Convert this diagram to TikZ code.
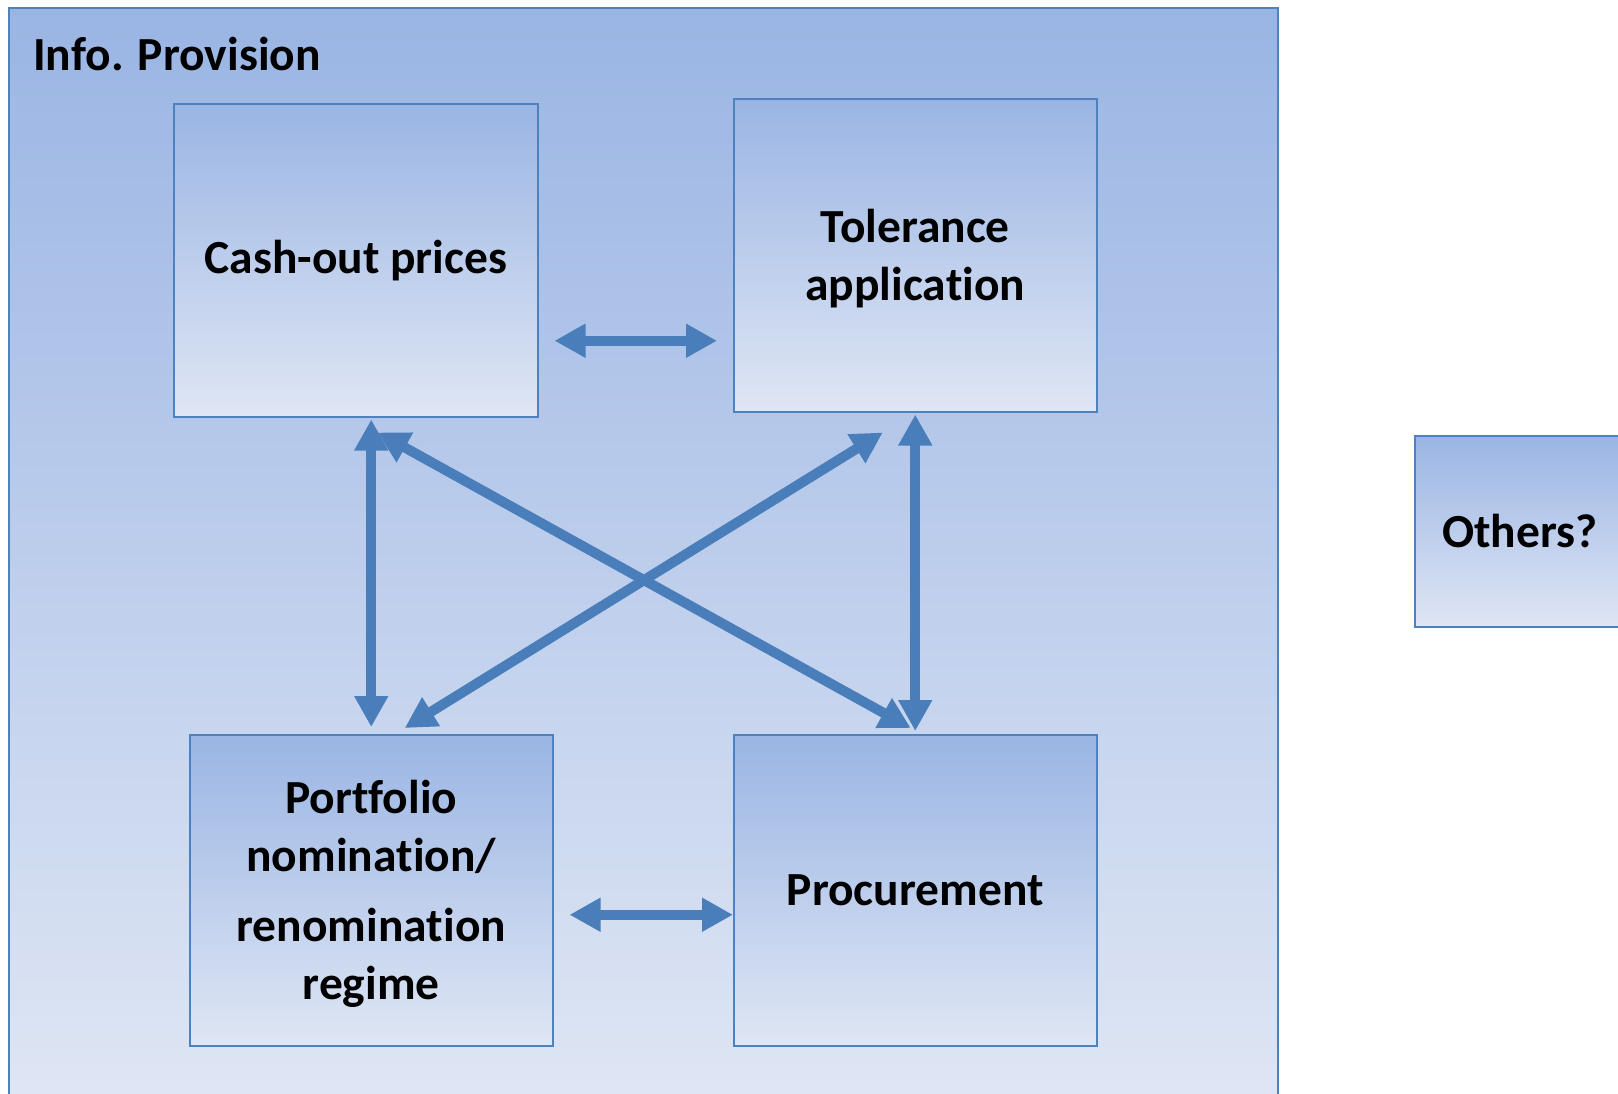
\documentclass[tikz,border=0pt]{standalone}
\usepackage{fontspec}
\setmainfont{Carlito}[Ligatures=NoCommon]
\usetikzlibrary{arrows.meta}
\definecolor{edge}{RGB}{79,129,189}
\definecolor{arrc}{RGB}{74,126,187}
\definecolor{gtop}{RGB}{154,181,228}
\definecolor{gbot}{RGB}{223,230,244}
\newcommand{\mylines}[1]{\raisebox{-10.8pt}[0pt][0pt]{\begin{tabular}{@{}c@{}}#1\end{tabular}}}
\newcommand{\nl}{\kern0pt }
\begin{document}
\begin{tikzpicture}[x=1pt,y=-1pt,
  txt/.style={font=\fontsize{47.5}{58}\selectfont\bfseries},
  box/.style={draw=edge, line width=1.5pt, top color=gtop, bottom color=gbot,
    anchor=north west, inner sep=0pt, align=center, txt},
  arr/.style={draw=arrc, line width=10pt,
    {Triangle[width=32pt,length=31pt]}-{Triangle[width=32pt,length=31pt]}}]
\useasboundingbox (0,0) rectangle (1618,1093);
\node[box, minimum width=1269pt, minimum height=1096pt] (outer) at (8,7) {};
\node[txt, anchor=base west, inner sep=0pt] (title) at (33,70) {Info. Provision};
\node[box, minimum width=364pt, minimum height=313pt] (cash) at (173,103) {Cash-out prices};
\node[box, minimum width=363pt, minimum height=313pt] (tol) at (733,98) {\mylines{Tolerance\\applica\nl tion}};
\node[box, minimum width=363pt, minimum height=311pt] (port) at (189,734) {\mylines{Port\nl folio\\nomina\nl tion/\\[12pt]renomina\nl tion\\regime}};
\node[box, minimum width=363pt, minimum height=311pt] (proc) at (733,734) {Procurement};
\node[box, minimum width=210pt, minimum height=191pt] (others) at (1414,435) {Others?};
\draw[arr] ([shift={(16,80.5)}]cash.east) -- ([shift={(-16,85.5)}]tol.west);
\draw[arr] ([shift={(16,24.5)}]port.east) -- ([shift={(0,24.5)}]proc.west);
\draw[arr, shorten <=2pt, shorten >=7pt] (port.north |- cash.south) -- (port.north);
\draw[arr, shorten <=2pt, shorten >=3pt] (tol.south) -- (proc.north);
\draw[arr] ([shift={(22,15)}]cash.south) -- ([shift={(-4.5,-6)}]proc.north);
\draw[arr] ([shift={(-32.5,20)}]tol.south) -- ([shift={(33.5,-6)}]port.north);
\end{tikzpicture}
\end{document}
